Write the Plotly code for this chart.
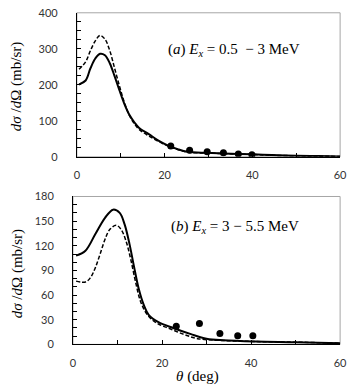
import plotly.graph_objects as go

# panel (a): Ex = 0.5 - 3 MeV
a_theta_solid = [0.5, 2, 3.1, 4.2, 5.3, 6.4, 7.5, 8.6, 9.7, 10.8, 12, 13.1, 14.2, 16.4, 18.6, 20.8, 23, 25.2, 29.7, 33.4, 40, 44.4, 50, 55, 60]
a_solid = [201, 212, 246, 273, 286, 282, 260, 224, 185, 148, 116, 96, 80, 63, 45, 31, 21, 14, 11, 9.5, 7, 5, 3, 2, 1]
a_theta_dash = [0.5, 2, 3.1, 4.2, 5.3, 6.4, 7.5, 8.6, 9.7, 10.8, 12, 13.1, 14.2, 16.4, 18.6, 20.8, 23, 25.2, 29.7, 33.4, 40, 44.4, 50, 55, 60]
a_dash = [243, 264, 295, 322, 337, 327, 295, 246, 197, 152, 114, 92, 76, 58, 43, 30, 20, 13, 10.5, 9, 6.5, 4.5, 3, 2, 1]
a_theta_exp = [21.4, 25.7, 29.7, 33.4, 36.8, 39.9]
a_exp = [30, 18, 14, 11.5, 8, 5.5]

# panel (b): Ex = 3 - 5.5 MeV
b_theta_solid = [0.7, 2.8, 5, 7.2, 9, 10.5, 11.6, 12.7, 13.7, 14.8, 15.9, 17, 19.2, 22.5, 26.5, 30, 33.8, 41, 50, 60]
b_solid = [108, 114, 134, 154, 164, 160, 146, 122, 95, 67, 48, 36, 27, 20, 12.5, 7, 5, 3.5, 2.7, 1.5]
b_theta_dash = [0.7, 2.8, 3.9, 5, 6.1, 7.2, 8.3, 9.7, 10.8, 11.9, 13, 14.1, 15.2, 16.7, 18.8, 21.8, 25, 28, 33.8, 41, 50, 60]
b_dash = [77, 76, 81, 93, 110, 128, 140, 145, 140, 126, 103, 75, 52, 36, 26, 19, 12, 7, 4.7, 3.5, 2.7, 1.5]
b_theta_exp = [23.2, 28.4, 33, 37, 40.4]
b_exp = [22, 25.5, 13.3, 10.6, 10.6]

fig = go.Figure()

panels = [
    ("x", "y", a_theta_solid, a_solid, a_theta_dash, a_dash, a_theta_exp, a_exp),
    ("x2", "y2", b_theta_solid, b_solid, b_theta_dash, b_dash, b_theta_exp, b_exp),
]
for xa, ya, ts, s, td, d, te, e in panels:
    fig.add_trace(go.Scatter(x=td, y=d, mode="lines", line=dict(color="black", width=1.5, dash="4px,2px"),
                             line_shape="spline", xaxis=xa, yaxis=ya))
    fig.add_trace(go.Scatter(x=ts, y=s, mode="lines", line=dict(color="black", width=2),
                             line_shape="spline", xaxis=xa, yaxis=ya))
    fig.add_trace(go.Scatter(x=te, y=e, mode="markers", marker=dict(color="black", size=7),
                             xaxis=xa, yaxis=ya))

tickfont = dict(family="Lato", size=11, color="#333333")
xcommon = dict(range=[0, 60], dtick=20, ticks="inside", ticklen=4, tickcolor="black",
               minor=dict(dtick=10, ticks="inside", ticklen=4, tickcolor="black"),
               showline=True, linecolor="black", linewidth=1, showgrid=False, zeroline=False,
               tickfont=tickfont, ticklabelstandoff=8)
ycommon = dict(ticks="inside", ticklen=4, tickcolor="black", showline=True, linecolor="black",
               linewidth=1, showgrid=False, zeroline=False, tickfont=tickfont, ticklabelstandoff=16)

fig.update_layout(
    width=354, height=391,
    margin=dict(l=0, r=0, t=0, b=0),
    paper_bgcolor="white", plot_bgcolor="white",
    showlegend=False,
    xaxis=dict(domain=[0.2147, 0.980], anchor="y", **xcommon),
    yaxis=dict(domain=[0.6036, 0.9847], anchor="x", range=[0, 400], dtick=100,
               minor=dict(dtick=25, ticks="inside", ticklen=4, tickcolor="black"), **ycommon),
    xaxis2=dict(domain=[0.2034, 0.980], anchor="y2", **xcommon),
    yaxis2=dict(domain=[0.1074, 0.4987], anchor="x2", range=[0, 180], dtick=30,
                minor=dict(dtick=10, ticks="inside", ticklen=4, tickcolor="black"), **ycommon),
)

# gray plot-area borders
for xr, yr in [("x domain", "y domain"), ("x2 domain", "y2 domain")]:
    fig.add_shape(type="rect", xref=xr, yref=yr, x0=0, x1=1, y0=0, y1=1,
                  line=dict(color="#a6a6a6", width=1), layer="below")

serif = dict(family="Liberation Serif", size=15, color="black")
labels = [
    (0.671, 0.885, "(<i>a</i>) <i>E<sub>x</sub></i> = 0.5  − 3 MeV", 0),
    (0.675, 0.417, "(<i>b</i>) <i>E<sub>x</sub></i> = 3 − 5.5 MeV", 0),
    (0.04, 0.790, "<i>dσ</i> /<i>d</i>Ω (mb/sr)", -90),
    (0.042, 0.294, "<i>dσ</i> /<i>d</i>Ω (mb/sr)", -90),
    (0.565, 0.023, "<i>θ</i> (deg)", 0),
]
for x, y, txt, ang in labels:
    fig.add_annotation(x=x, y=y, xref="paper", yref="paper", xanchor="center", yanchor="middle",
                       showarrow=False, font=serif, text=txt, textangle=ang)

fig.write_html("out.html", config={"displayModeBar": False},
               post_script="document.body.style.margin='0';")
